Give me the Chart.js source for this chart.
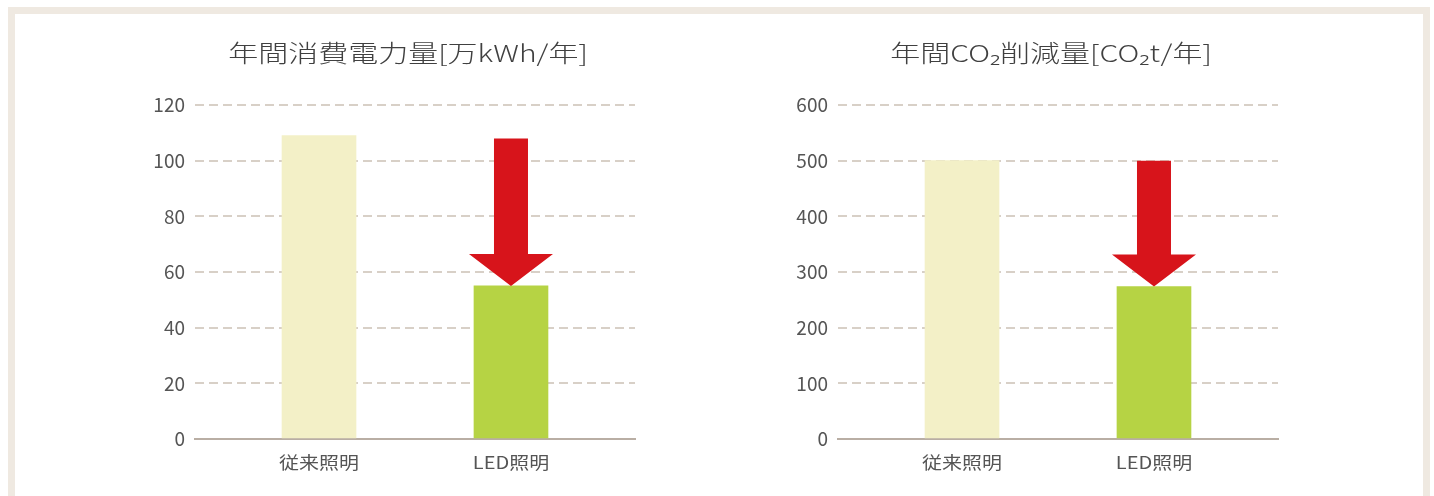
<!DOCTYPE html>
<html>
<head>
<meta charset="utf-8">
<script src="https://cdn.jsdelivr.net/npm/chart.js@4"></script>
<style>
  body { margin: 0; background: #fff; width: 1434px; height: 496px; overflow: hidden; position: relative; }
  .frame { position: absolute; left: 8px; top: 7px; width: 1408px; height: 500px; border: 7px solid #efe9e1; border-bottom: none; }
  .box { position: absolute; top: 14px; width: 560px; height: 482px; }
</style>
</head>
<body>
<div class="frame"></div>
<div class="box" style="left:95px"><canvas id="chartPower"></canvas></div>
<div class="box" style="left:738px"><canvas id="chartCo2"></canvas></div>
<script>
// data
let categories = ["従来照明", "LED照明"];
let powerValues = [109, 55];
let co2Values = [500, 274];
let powerTicks = [0, 20, 40, 60, 80, 100, 120];
let co2Ticks = [0, 100, 200, 300, 400, 500, 600];
let arrowTop = [108, 500];
let titles = ["年間消費電力量[万kWh/年]", "年間CO₂削減量[CO₂t/年]"];

let barColors = ["#f3f0c7", "#b6d344"];
let fontFamily = "'Noto Sans CJK JP', 'Noto Sans', sans-serif";

// red arrow pointing down to the LED bar
let arrowPlugin = {
  id: "arrow",
  afterDatasetsDraw(chart, args, opts) {
    let ctx = chart.ctx;
    let xs = chart.scales.x;
    let ys = chart.scales.y;
    let cx = xs.getPixelForValue(1);
    let top = ys.getPixelForValue(opts.from);
    let tip = ys.getPixelForValue(opts.to);
    let headLen = 32;
    let shaftW = 17;
    let headW = 42;
    ctx.save();
    ctx.fillStyle = "#d7141b";
    ctx.beginPath();
    ctx.moveTo(cx - shaftW, top);
    ctx.lineTo(cx + shaftW, top);
    ctx.lineTo(cx + shaftW, tip - headLen);
    ctx.lineTo(cx + headW, tip - headLen);
    ctx.lineTo(cx, tip);
    ctx.lineTo(cx - headW, tip - headLen);
    ctx.lineTo(cx - shaftW, tip - headLen);
    ctx.closePath();
    ctx.fill();
    ctx.restore();
  },
};

// wide, slightly flattened text like the original artwork
function wideText(ctx, text, x, y, font, squash, color) {
  ctx.save();
  ctx.translate(x, y);
  ctx.scale(1, squash);
  ctx.textAlign = "center";
  ctx.textBaseline = "middle";
  ctx.fillStyle = color;
  ctx.font = font + " " + fontFamily;
  ctx.fillText(text, 0, 0);
  ctx.restore();
}

let textPlugin = {
  id: "wideText",
  afterDraw(chart, args, opts) {
    let ctx = chart.ctx;
    let area = chart.chartArea;
    let xs = chart.scales.x;
    wideText(ctx, opts.title, (area.left + area.right) / 2 - 7, 39, "300 30px", 0.78, "#404040");
    categories.forEach((c, i) => {
      wideText(ctx, c, xs.getPixelForValue(i), area.bottom + 23, "20px", 0.88, "#555");
    });
  },
};

function makeChart(id, title, values, ticks, from) {
  let points = values.map((v, i) => ({ x: i, y: v }));
  let config = {
    type: "bar",
    data: {
      datasets: [
        {
          data: points,
          backgroundColor: barColors,
          barThickness: 74,
        },
      ],
    },
    options: {
      responsive: true,
      maintainAspectRatio: false,
      animation: false,
      layout: { padding: { top: 91, right: 20, bottom: 0, left: 0 } },
      plugins: {
        legend: { display: false },
        tooltip: { enabled: false },
        title: { display: false },
        arrow: { from: from, to: values[1] },
        wideText: { title: title },
      },
      scales: {
        x: {
          type: "linear",
          offset: false,
          min: -0.646,
          max: 1.646,
          afterFit: (scale) => {
            scale.height = 57;
          },
          grid: { display: false, drawTicks: false },
          border: { color: "#b9aea4", width: 2 },
          ticks: { display: false },
        },
        y: {
          min: ticks[0],
          max: ticks[ticks.length - 1],
          afterBuildTicks: (scale) => {
            scale.ticks = ticks.map((t) => ({ value: t }));
          },
          afterFit: (scale) => {
            scale.width = 100;
          },
          grid: {
            drawTicks: false,
            color: (c) => (c.tick && c.tick.value === 0 ? "rgba(0,0,0,0)" : "#d8d0c7"),
            lineWidth: 2,
          },
          border: { display: false, dash: [9, 5] },
          ticks: {
            padding: 10,
            color: "#555",
            font: { family: fontFamily, size: 19 },
          },
        },
      },
    },
    plugins: [arrowPlugin, textPlugin],
  };
  return new Chart(document.getElementById(id), config);
}

makeChart("chartPower", titles[0], powerValues, powerTicks, arrowTop[0]);
makeChart("chartCo2", titles[1], co2Values, co2Ticks, arrowTop[1]);
</script>
</body>
</html>
